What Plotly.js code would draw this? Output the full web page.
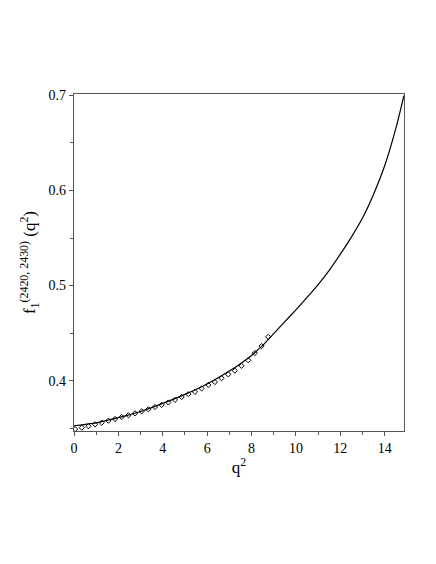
<!DOCTYPE html>
<html>
<head>
<meta charset="utf-8">
<script src="https://cdn.plot.ly/plotly-3.0.1.min.js"></script>
<style>
  html, body { margin: 0; padding: 0; background: #fff; }
  #plot { width: 436px; height: 564px; }
</style>
</head>
<body>
<div id="plot"></div>
<script>
// theory curve
var curve_q2 = [0, 1, 2, 3, 4, 5, 6, 7, 8, 8.5, 9, 9.5, 10, 10.5, 11, 11.5, 12, 12.5, 13, 13.5, 14, 14.5, 14.87];
var curve_f = [0.3525, 0.3555, 0.361, 0.3675, 0.376, 0.3855, 0.3965, 0.41, 0.4265, 0.437, 0.4495, 0.462, 0.4745, 0.4875, 0.501, 0.516, 0.533, 0.551, 0.571, 0.596, 0.626, 0.665, 0.7];

// data points (diamonds)
var pts_q2 = [0.05, 0.35, 0.65, 0.95, 1.25, 1.55, 1.85, 2.15, 2.45, 2.75, 3.05, 3.35, 3.65, 3.95, 4.25,
              4.55, 4.85, 5.15, 5.45, 5.75, 6.05, 6.35, 6.65, 6.95, 7.25, 7.55, 7.85, 8.15, 8.45, 8.75];
var pts_f = [0.349, 0.3505, 0.352, 0.354, 0.3558, 0.3578, 0.3596, 0.3617, 0.3636, 0.3656, 0.3677, 0.3698, 0.3722, 0.3745, 0.377,
             0.3797, 0.3828, 0.3858, 0.3882, 0.3918, 0.3955, 0.3985, 0.4025, 0.4066, 0.4104, 0.4156, 0.4214, 0.429, 0.4363, 0.446];

var xTicks = [0, 2, 4, 6, 8, 10, 12, 14];
var yTicks = [0.4, 0.5, 0.6, 0.7];

var trace1 = {
  x: curve_q2,
  y: curve_f,
  type: 'scatter',
  mode: 'lines',
  line: {color: '#000', width: 1.2, shape: 'spline', smoothing: 0.6},
  hoverinfo: 'skip'
};

var trace2 = {
  x: pts_q2,
  y: pts_f,
  type: 'scatter',
  mode: 'markers',
  marker: {symbol: 'diamond-open', size: 4, color: '#000', line: {width: 1, color: '#000'}}
};

var serif = 'Liberation Serif';
var axisFont = {family: serif, size: 14, color: '#000'};

var layout = {
  width: 436,
  height: 564,
  margin: {l: 74, r: 32, t: 94, b: 133},
  paper_bgcolor: '#fff',
  plot_bgcolor: '#fff',
  showlegend: false,
  font: axisFont,
  xaxis: {
    range: [0, 14.87],
    tickvals: xTicks,
    ticktext: xTicks.map(String),
    ticks: 'outside',
    ticklen: 4,
    tickcolor: '#555',
    minor: {dtick: 1, ticks: 'outside', ticklen: 3, tickcolor: '#555', showgrid: false},
    showgrid: false,
    zeroline: false,
    showline: true,
    linecolor: '#555',
    linewidth: 1.3,
    mirror: true,
    tickfont: axisFont,
    title: {text: 'q<sup>2</sup>', font: {family: serif, size: 17, color: '#000'}, standoff: 6}
  },
  yaxis: {
    range: [0.347, 0.7015],
    tickvals: yTicks,
    ticktext: yTicks.map(function (v) { return v.toFixed(1); }),
    ticks: 'outside',
    ticklen: 4,
    tickcolor: '#555',
    minor: {dtick: 0.05, ticks: 'outside', ticklen: 3, tickcolor: '#555', showgrid: false},
    showgrid: false,
    zeroline: false,
    showline: true,
    linecolor: '#555',
    linewidth: 1.3,
    mirror: true,
    tickfont: axisFont,
    title: {text: 'f<sub>1</sub><sup>(2420, 2430)</sup> (q<sup>2</sup>)', font: {family: serif, size: 17, color: '#000'}, standoff: 8}
  }
};

Plotly.newPlot('plot', [trace1, trace2], layout, {staticPlot: true});
</script>
</body>
</html>
